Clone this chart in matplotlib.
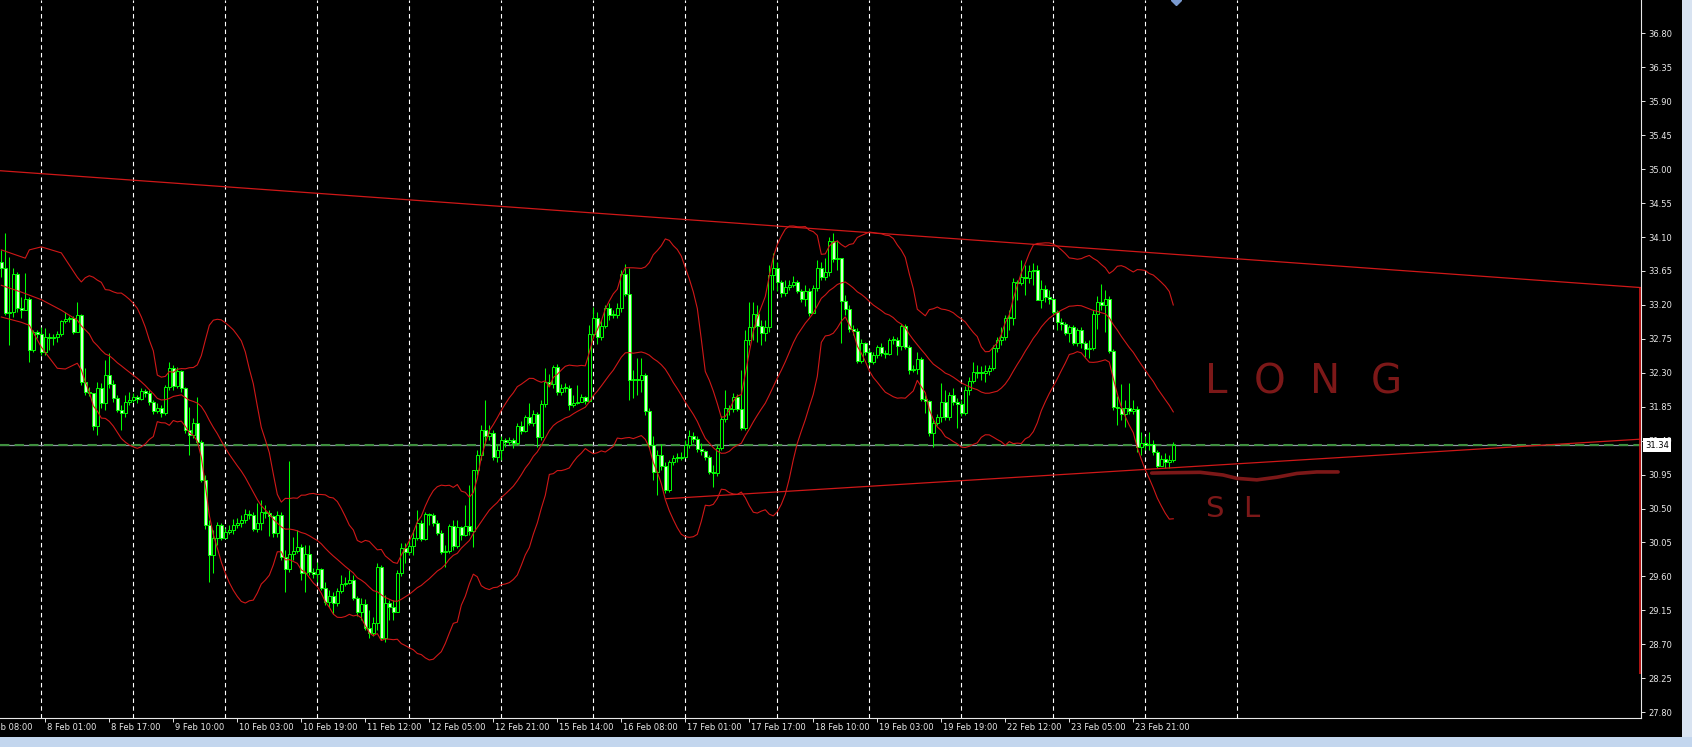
import numpy as np
import pandas as pd
import matplotlib
matplotlib.use("Agg")
import matplotlib.pyplot as plt
from matplotlib.transforms import ScaledTranslation, blended_transform_factory
from matplotlib.patches import Rectangle

# ---- H1 candles (bar 0 = left edge) ----
first_open = 33.77
closes = [
    33.69, 33.09, 33.11, 33.61, 33.16, 33.13, 33.28, 32.60, 32.84, 32.81,
    32.57, 32.77, 32.76, 32.77, 32.81, 32.99, 33.01, 33.03, 32.84, 33.07,
    32.18, 32.04, 32.03, 31.59, 32.10, 31.90, 32.27, 32.15, 31.97, 31.81,
    31.77, 31.91, 31.94, 31.98, 31.95, 32.06, 32.03, 31.91, 31.79, 31.83,
    31.77, 32.11, 32.36, 32.12, 32.32, 32.10, 31.54, 31.47, 31.63, 31.38,
    30.88, 30.28, 29.88, 30.11, 30.28, 30.11, 30.19, 30.21, 30.28, 30.31,
    30.35, 30.43, 30.41, 30.23, 30.31, 30.45, 30.44, 30.40, 30.17, 30.41,
    29.86, 29.70, 29.90, 29.94, 29.99, 29.64, 29.90, 29.66, 29.63, 29.70,
    29.45, 29.26, 29.34, 29.25, 29.41, 29.50, 29.51, 29.55, 29.31, 29.13,
    29.23, 28.91, 28.85, 28.98, 29.72, 28.78, 29.25, 29.19, 29.13, 29.64,
    29.98, 29.92, 30.00, 30.11, 30.31, 30.10, 30.43, 30.41, 30.31, 30.17,
    29.92, 29.94, 30.27, 30.00, 30.25, 30.15, 30.27, 30.20, 31.01, 31.21,
    31.54, 31.46, 31.50, 31.18, 31.28, 31.41, 31.38, 31.41, 31.37, 31.59,
    31.53, 31.71, 31.63, 31.75, 31.45, 31.89, 32.18, 32.15, 32.38, 32.04,
    32.10, 32.10, 31.87, 31.90, 31.91, 31.98, 31.93, 32.81, 33.03, 32.77,
    32.92, 33.16, 33.07, 33.07, 33.16, 33.61, 33.34, 32.20, 32.22, 32.20,
    32.27, 31.79, 31.34, 30.98, 31.21, 31.06, 30.74, 31.12, 31.17, 31.17,
    31.18, 31.34, 31.46, 31.42, 31.29, 31.26, 31.18, 30.98, 30.97, 31.30,
    31.69, 31.83, 31.82, 31.98, 31.82, 31.57, 32.73, 32.91, 33.08, 32.92,
    32.83, 32.91, 33.60, 33.69, 33.50, 33.36, 33.44, 33.46, 33.50, 33.38,
    33.28, 33.38, 33.09, 33.42, 33.69, 33.57, 33.64, 34.05, 33.81, 33.82,
    33.25, 33.15, 32.88, 32.85, 32.46, 32.69, 32.58, 32.44, 32.54, 32.64,
    32.56, 32.55, 32.73, 32.73, 32.65, 32.92, 32.64, 32.34, 32.35, 32.48,
    31.95, 31.93, 31.50, 31.63, 31.71, 31.91, 31.71, 32.00, 31.91, 31.89,
    31.77, 32.07, 32.19, 32.31, 32.30, 32.30, 32.32, 32.36, 32.63, 32.73,
    32.77, 33.03, 33.03, 33.50, 33.49, 33.57, 33.56, 33.65, 33.66, 33.27,
    33.41, 33.31, 33.28, 33.11, 32.97, 32.95, 32.83, 32.91, 32.69, 32.87,
    32.69, 32.62, 32.63, 33.08, 33.24, 33.20, 33.28, 32.59, 31.85, 31.83,
    31.75, 31.83, 31.79, 31.82, 31.31, 31.37, 31.34, 31.36, 31.25, 31.06,
    31.16, 31.12, 31.14, 31.34]
highs = [
    33.93, 34.15, 33.84, 33.69, 33.64, 33.31, 33.62, 33.31, 32.87, 32.87,
    32.91, 32.89, 32.83, 32.81, 32.85, 33.00, 33.11, 33.05, 33.05, 33.24,
    33.08, 32.36, 32.11, 32.03, 32.18, 32.16, 32.47, 32.56, 32.20, 32.00,
    31.87, 32.00, 32.04, 32.03, 32.00, 32.10, 32.08, 32.07, 31.94, 31.90,
    31.87, 32.14, 32.44, 32.40, 32.38, 32.34, 32.11, 31.85, 31.70, 31.98,
    31.41, 30.94, 30.35, 30.21, 30.32, 30.31, 30.24, 30.28, 30.36, 30.37,
    30.41, 30.49, 30.48, 30.45, 30.57, 30.61, 30.55, 30.48, 30.41, 30.47,
    30.45, 29.95, 31.13, 30.12, 30.21, 30.03, 30.02, 30.02, 29.71, 29.79,
    29.71, 29.52, 29.42, 29.39, 29.44, 29.62, 29.59, 29.68, 29.62, 29.34,
    29.31, 29.30, 29.15, 29.06, 29.78, 29.75, 29.35, 29.29, 29.29, 29.68,
    30.04, 30.04, 30.08, 30.21, 30.48, 30.35, 30.45, 30.44, 30.44, 30.35,
    30.21, 30.02, 30.29, 30.35, 30.35, 30.27, 30.55, 30.81, 31.01, 31.28,
    31.61, 31.94, 31.61, 31.54, 31.34, 31.46, 31.43, 31.45, 31.43, 31.63,
    31.66, 31.74, 31.90, 31.81, 31.78, 31.94, 32.36, 32.29, 32.40, 32.42,
    32.15, 32.16, 32.14, 32.00, 32.14, 32.02, 31.99, 32.93, 33.17, 33.11,
    33.00, 33.20, 33.23, 33.13, 33.23, 33.66, 33.74, 33.69, 32.34, 32.50,
    32.50, 32.30, 31.83, 31.46, 31.28, 31.36, 31.12, 31.14, 31.21, 31.24,
    31.25, 31.41, 31.54, 31.51, 31.46, 31.37, 31.28, 31.21, 31.08, 31.34,
    31.73, 32.07, 31.87, 32.03, 32.02, 32.34, 32.87, 33.24, 33.24, 33.20,
    33.00, 33.00, 33.73, 33.89, 33.77, 33.53, 33.53, 33.53, 33.58, 33.53,
    33.41, 33.46, 33.42, 33.46, 33.80, 33.77, 33.82, 34.10, 34.15, 34.06,
    33.64, 33.33, 33.20, 32.93, 32.89, 32.75, 32.71, 32.62, 32.58, 32.67,
    32.69, 32.60, 32.76, 32.79, 32.77, 32.95, 32.95, 32.67, 32.40, 32.58,
    32.51, 32.00, 31.94, 31.67, 31.75, 32.16, 32.07, 32.04, 32.10, 31.96,
    31.94, 32.12, 32.24, 32.44, 32.40, 32.39, 32.40, 32.40, 32.67, 32.77,
    32.91, 33.07, 33.13, 33.56, 33.53, 33.80, 33.73, 33.73, 33.76, 33.73,
    33.53, 33.46, 33.40, 33.29, 33.13, 33.03, 32.97, 32.93, 32.93, 32.89,
    32.91, 32.72, 32.73, 33.13, 33.32, 33.48, 33.40, 33.32, 32.61, 31.99,
    32.15, 31.94, 32.16, 31.94, 31.86, 31.51, 31.46, 31.51, 31.41, 31.28,
    31.21, 31.24, 31.21, 31.38]
lows = [
    33.57, 33.07, 32.67, 33.04, 33.11, 33.03, 33.13, 32.44, 32.58, 32.76,
    32.54, 32.54, 32.60, 32.67, 32.71, 32.79, 32.96, 32.97, 32.81, 32.84,
    32.14, 32.00, 31.99, 31.54, 31.47, 31.83, 31.81, 32.10, 31.91, 31.78,
    31.54, 31.71, 31.87, 31.91, 31.90, 31.94, 31.98, 31.87, 31.75, 31.77,
    31.71, 31.74, 32.07, 32.07, 32.10, 32.04, 31.50, 31.21, 31.43, 31.35,
    30.85, 30.23, 29.52, 29.64, 30.02, 30.08, 30.13, 30.16, 30.16, 30.24,
    30.25, 30.31, 30.36, 30.20, 30.19, 30.21, 30.37, 30.13, 30.12, 30.12,
    29.82, 29.39, 29.66, 29.82, 29.91, 29.55, 29.39, 29.62, 29.58, 29.52,
    29.42, 29.22, 29.19, 29.10, 29.21, 29.38, 29.47, 29.50, 29.29, 29.07,
    29.02, 28.89, 28.78, 28.81, 28.89, 28.76, 28.73, 29.02, 29.02, 29.25,
    29.60, 29.78, 29.88, 29.88, 30.08, 30.07, 30.08, 30.28, 30.27, 30.15,
    29.90, 29.72, 29.91, 29.95, 29.98, 30.08, 30.13, 30.15, 29.99, 30.94,
    31.14, 31.34, 31.41, 31.14, 31.12, 31.14, 31.32, 31.34, 31.30, 31.34,
    31.49, 31.51, 31.61, 31.59, 31.32, 31.41, 31.85, 32.12, 32.10, 32.00,
    32.00, 32.04, 31.81, 31.85, 31.89, 31.91, 31.89, 31.91, 32.76, 32.68,
    32.73, 32.89, 33.00, 33.03, 33.03, 33.11, 33.32, 31.94, 31.96, 32.00,
    32.04, 31.74, 31.30, 30.88, 30.68, 31.01, 30.70, 30.72, 31.08, 31.12,
    31.14, 31.17, 31.30, 31.38, 31.25, 31.21, 31.14, 30.96, 30.79, 30.93,
    31.28, 31.65, 31.74, 31.78, 31.79, 31.54, 31.54, 32.67, 32.73, 32.71,
    32.67, 32.72, 32.84, 33.40, 33.38, 33.31, 33.32, 33.40, 33.44, 33.36,
    33.24, 33.19, 33.05, 33.11, 33.38, 33.53, 33.53, 33.58, 33.77, 33.66,
    32.69, 33.07, 32.84, 32.80, 32.43, 32.43, 32.54, 32.40, 32.42, 32.50,
    32.52, 32.50, 32.54, 32.68, 32.54, 32.60, 32.61, 32.28, 32.31, 32.29,
    31.93, 31.77, 31.46, 31.32, 31.61, 31.65, 31.67, 31.67, 31.87, 31.57,
    31.73, 31.74, 32.00, 32.16, 32.23, 32.20, 32.18, 32.27, 32.34, 32.58,
    32.67, 32.73, 32.87, 32.93, 33.27, 33.46, 33.33, 33.49, 33.46, 33.27,
    33.16, 33.24, 33.21, 33.07, 32.87, 32.87, 32.80, 32.71, 32.67, 32.66,
    32.63, 32.51, 32.50, 32.60, 32.88, 33.13, 32.84, 32.56, 31.81, 31.61,
    31.67, 31.58, 31.75, 31.75, 31.25, 31.21, 31.28, 31.28, 31.21, 31.04,
    31.06, 31.04, 31.04, 31.12]

# Bollinger(20, 2) values visible at the left edge, before 20 bars of history exist
bb_upper_head_bars = [0, 6, 7, 10, 15, 17]
bb_upper_head = [33.93, 33.82, 33.93, 33.97, 33.89, 33.73]
bb_mid_head_bars = [0, 5, 10, 15]
bb_mid_head = [33.46, 33.37, 33.27, 33.13]
bb_lower_head_bars = [0, 5, 7, 10, 13, 14, 16]
bb_lower_head = [33.04, 32.97, 32.93, 32.64, 32.43, 32.36, 32.35]

# trend lines (bar, price)
upper_tl_bars = [-0.33, 409.93]
upper_tl_prices = [34.98, 33.43]
lower_tl_bars = [166.2, 409.93]
lower_tl_prices = [30.63, 31.42]
edge_line = [28.30, 33.43]

# hand drawn stop-loss stroke (bar, price)
sl_stroke_bars = [287.6, 292.2, 299.7, 305.4, 308.9, 313.9, 318.9, 323.9, 328.9, 334.2]
sl_stroke_prices = [30.97, 30.975, 30.98, 30.945, 30.90, 30.88, 30.915, 30.965, 30.985, 30.985]

bid = 31.34
price_ticks = [27.80, 28.25, 28.70, 29.15, 29.60, 30.05, 30.50, 30.95, 31.40, 31.85,
               32.30, 32.75, 33.20, 33.65, 34.10, 34.55, 35.00, 35.45, 35.90, 36.35, 36.80]
time_label_bars = [-5, 11, 27, 43, 59, 75, 91, 107, 123, 139, 155, 171, 187, 203,
                   219, 235, 251, 267, 283]
time_labels = ["7 Feb 08:00", "8 Feb 01:00", "8 Feb 17:00", "9 Feb 10:00", "10 Feb 03:00",
               "10 Feb 19:00", "11 Feb 12:00", "12 Feb 05:00", "12 Feb 21:00", "15 Feb 14:00",
               "16 Feb 08:00", "17 Feb 01:00", "17 Feb 17:00", "18 Feb 10:00", "19 Feb 03:00",
               "19 Feb 19:00", "22 Feb 12:00", "23 Feb 05:00", "23 Feb 21:00"]
day_grid_bars = np.arange(10, 310, 23)

RED = "#d01818"
LIME = "#00ff00"
PEN = "#7c1818"
FG = "#e8e8e8"

W, H = 1692, 747
fig = plt.figure(figsize=(W / 100, H / 100), dpi=100, facecolor="black")
ax_bottom_px = 717.6
ax_right_px = 1641
ax = fig.add_axes([0, (H - ax_bottom_px) / H, ax_right_px / W, ax_bottom_px / H])
ax.set_facecolor("black")
ax.set_xlim(-0.33, 409.93)
ax.set_ylim(27.727, 37.244)

for s in ["left", "top"]:
    ax.spines[s].set_visible(False)
for s in ["right", "bottom"]:
    ax.spines[s].set_color(FG)
    ax.spines[s].set_linewidth(0.8)

# day separators
ax.vlines(day_grid_bars, 27.727, 37.244, colors="white", linewidth=0.8,
          linestyles=(0, (4, 3)), zorder=1)

# candles
c = np.array(closes)
o = np.r_[first_open, c[:-1]]
h = np.maximum(np.array(highs), np.maximum(o, c))
l = np.minimum(np.array(lows), np.minimum(o, c))
x = np.arange(len(c))
ax.vlines(x, l, h, colors=LIME, linewidth=0.75, zorder=3)
body_lo = np.minimum(o, c)
body_h = np.maximum(np.abs(c - o), 0.012)
bull = c > o
ax.bar(x[bull], body_h[bull], bottom=body_lo[bull], width=0.75, color="black",
       edgecolor=LIME, linewidth=0.7, zorder=4)
ax.bar(x[~bull], body_h[~bull], bottom=body_lo[~bull], width=0.75, color="#d6ffd0",
       edgecolor=LIME, linewidth=0.7, zorder=4)

# Bollinger bands 20, 2
cs = pd.Series(c)
mid = cs.rolling(20).mean().to_numpy()
sd = cs.rolling(20).std(ddof=0).to_numpy()
up = mid + 2 * sd
lo = mid - 2 * sd
tail = x[19:]
for hb, hv, band in [(bb_upper_head_bars, bb_upper_head, up),
                     (bb_mid_head_bars, bb_mid_head, mid),
                     (bb_lower_head_bars, bb_lower_head, lo)]:
    ax.plot(np.r_[hb, tail], np.r_[hv, band[19:]], color=RED, linewidth=0.8, zorder=5)

# trend lines
ax.plot(upper_tl_bars, upper_tl_prices, color=RED, linewidth=0.9, zorder=5)
ax.plot(lower_tl_bars, lower_tl_prices, color=RED, linewidth=0.9, zorder=5)
ax.vlines(409.7, edge_line[0], edge_line[1], colors=RED, linewidth=1.2, zorder=6, clip_on=False)

# bid line
ax.axhline(bid, color="#8e9aa4", linewidth=0.9, zorder=2)
ax.axhline(bid + 0.008, color="#3f8f3f", linewidth=1.5, linestyle=(0, (4.5, 2.5)), zorder=2)

# hand drawn notes
ax.plot(sl_stroke_bars, sl_stroke_prices, color=PEN, linewidth=2.6, solid_capstyle="round",
        zorder=6)
for ch, bx in zip("LONG", [303.7, 317.2, 330.9, 346.2]):
    ax.text(bx, 32.03, ch, color=PEN, fontsize=29, ha="center", va="baseline", zorder=6)
for ch, bx in zip("SL", [303.2, 312.4]):
    ax.text(bx, 30.39, ch, color=PEN, fontsize=21, ha="center", va="baseline", zorder=6)

# price axis
ax.yaxis.tick_right()
ax.set_yticks(price_ticks)
ax.set_yticklabels([f"{v:.2f}" for v in price_ticks])
ax.tick_params(axis="y", direction="out", length=3, width=0.7, colors=FG,
               labelsize=6, pad=2.5)

# time axis
in_view = [b for b in time_label_bars if b >= 0]
ax.set_xticks(in_view)
ax.set_xticklabels([])
ax.tick_params(axis="x", direction="out", length=3, width=0.7, colors=FG)
tr = blended_transform_factory(ax.transData, ax.transAxes) + \
    ScaledTranslation(2 / 100, -9.5 / 100, fig.dpi_scale_trans)
for b, lab in zip(time_label_bars, time_labels):
    ax.text(b, 0, lab, transform=tr, color=FG, fontsize=6, ha="left", va="center",
            clip_on=False)

# current price box
trb = blended_transform_factory(ax.transAxes, ax.transData) + \
    ScaledTranslation(4 / 100, 0, fig.dpi_scale_trans)
ax.text(1, bid, f"{bid:.2f}", transform=trb, color="black", fontsize=6, ha="left",
        va="center", zorder=10, clip_on=False,
        bbox=dict(boxstyle="square,pad=0.3", fc="white", ec="none"))

# chart shift marker
ax.plot([293.7], [37.244], marker="D", ms=5, color="#7a9ad0", clip_on=False, zorder=7)

# window chrome
fig.add_artist(Rectangle((0, 0), 1, 10 / H, transform=fig.transFigure,
                         facecolor="#c3d6ee", edgecolor="none"))
fig.add_artist(Rectangle((1682 / W, 10 / H), 10 / W, 1, transform=fig.transFigure,
                         facecolor="#d8e3f1", edgecolor="none"))

fig.savefig("out.png", dpi=100, facecolor="black")
